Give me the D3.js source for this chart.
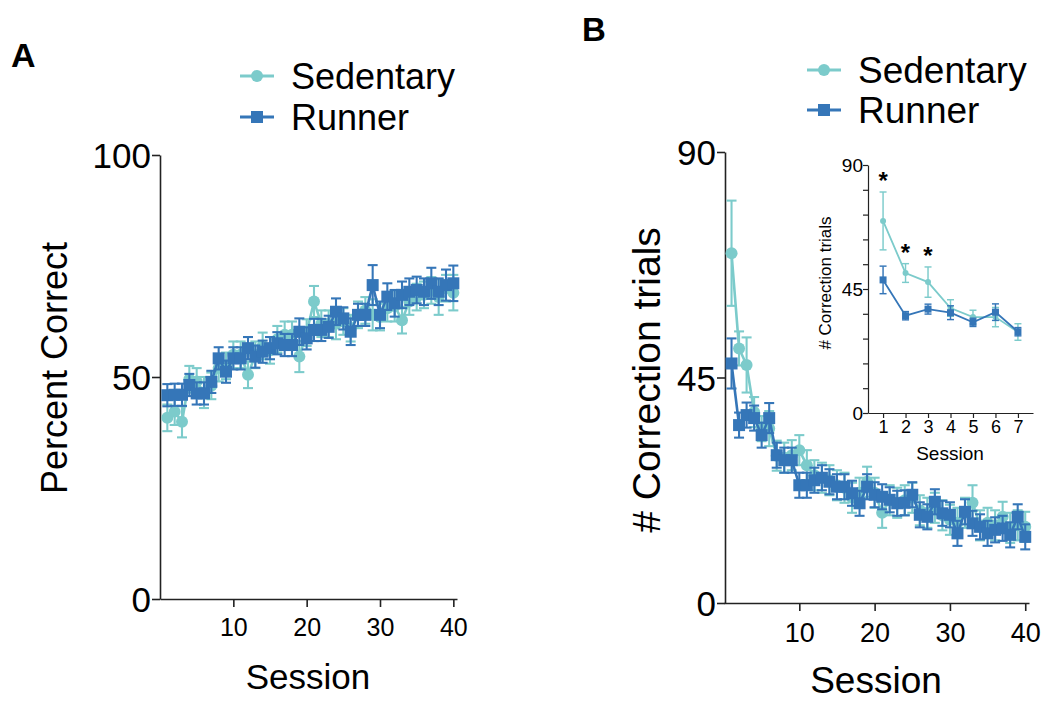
<!DOCTYPE html>
<meta charset="utf-8">
<html>
<head>
<style>
  body { margin: 0; background: #fff; }
  svg text { font-family: "Liberation Sans", Arial, sans-serif; fill: #000; }
  .axis path, .axis line { stroke: #222; stroke-width: 1.6; }
</style>
</head>
<body>
<svg id="chart" width="1050" height="710"></svg>
<script src="https://cdnjs.cloudflare.com/ajax/libs/d3/7.8.5/d3.min.js"></script>
<script>
  // data
  var sessions = d3.range(1, 41);
  var insetSessions = d3.range(1, 8);

  // A: percent correct
  var pctSedentary = [40.8, 42.2, 39.9, 49.5, 49, 46.5, 48, 52, 52.5, 55, 55, 50.5, 55, 57, 56, 58.5, 59.5, 59.5, 54.6, 60,
                      67, 62, 62, 62, 62.5, 61, 64, 65, 64, 63.5, 65.5, 66, 62.8, 67, 68, 68.5, 69.5, 68, 70, 69];
  var pctSedentaryErr = [3, 3, 3.5, 3, 3, 3.5, 3, 3, 3, 3, 3, 3, 3, 3, 3, 3, 3, 3, 3.5, 3,
                         3.5, 3, 3, 3.5, 3, 3, 3, 3, 3.5, 3, 3, 3.5, 3, 3, 3, 3, 3, 4, 3, 4];
  var pctRunner = [45.9, 46, 46, 48.2, 46.3, 46.3, 48.9, 54.2, 51.2, 54.2, 54.2, 56.5, 54.6, 55.7, 56.5, 57.6, 57.2, 57.2, 60.2, 58.7,
                   60.6, 60.6, 61.3, 64.7, 63.2, 60.2, 64, 64, 70.7, 64, 68.1, 66.6, 68.5, 69.2, 69.6, 69.2, 71.1, 69.2, 70.7, 71.1];
  var pctRunnerErr = [2.5, 2.5, 2.5, 2.5, 2.5, 2.5, 2.5, 2.5, 2.5, 2.5, 2.5, 2.5, 2.5, 2.5, 2.5, 2.5, 2.5, 2.5, 3, 2.5,
                      2.5, 2.5, 2.5, 3, 2.5, 3, 2.5, 2.5, 4.5, 3, 3, 3, 3, 3, 3, 3, 3.5, 3, 3.5, 4];

  // B: correction trials
  var corrSedentary = [69.8, 50.8, 47.5, 38.1, 34.8, 34.8, 29.4, 29, 29.5, 30.5, 27.5, 25.5, 25, 24.5, 23.5, 23, 21, 22, 24.2, 22,
                       18, 20.5, 20, 20.5, 21, 18.5, 18, 19, 17.5, 16.6, 16, 18, 20, 15.5, 16, 15.5, 17.2, 15, 15.5, 15.2];
  var corrSedentaryErr = [10.5, 3.4, 5.5, 3, 2.5, 3.5, 3, 3, 3, 3, 3, 3, 3, 3, 3, 3, 3, 3, 3, 3,
                          3, 3, 3, 3, 3, 3, 3, 3, 3, 3, 3, 3, 3.5, 3, 3, 3, 3, 3, 3, 3];
  var corrRunner = [47.8, 35.5, 37.5, 36.9, 33.5, 36.9, 29.5, 28.5, 28.5, 23.5, 23.5, 24.5, 25, 24.2, 23.2, 23.2, 21.9, 19.9, 23.2, 21.6,
                    21.2, 20.6, 19.9, 20, 21.6, 17.6, 17.2, 20.2, 17.9, 17.6, 13.9, 18.2, 15.9, 15.2, 13.9, 14.6, 14.9, 13.6, 17.2, 13.2];
  var corrRunnerErr = [5, 2.5, 2.5, 2.5, 2.5, 3, 2.5, 2.5, 2.5, 2.5, 2.5, 2.5, 2.5, 2.5, 2.5, 2.5, 2.5, 2.5, 2.5, 2.5,
                       2.5, 2.5, 2.5, 2.5, 2.5, 2.5, 2.5, 2.5, 2.5, 2.5, 2.5, 2.5, 2.5, 2.5, 2.5, 2.5, 2.5, 2.5, 2.5, 2.5];

  // B inset: first 7 sessions
  var insetSedentary = [69.7, 50.8, 47.5, 38.1, 34.8, 34.8, 29.4];
  var insetSedentaryErr = [10.5, 3.4, 5.5, 3, 2.5, 3.5, 3];
  var insetRunner = [48.3, 35.3, 37.7, 36.4, 32.9, 36.6, 29.5];
  var insetRunnerErr = [5, 1.5, 1.8, 2.5, 1.5, 3, 1.5];
  var insetStars = [1, 2, 3];

  var seriesNames = ["Sedentary", "Runner"];
  var colSed = "#7ccbcb", colRun = "#3576b8";

  var svg = d3.select("#chart");

  function rows(xs, ys, es) {
    return xs.map(function(x, i) { return { x: x, y: ys[i], e: es[i] }; });
  }

  // draw one series: line, error bars, markers
  function drawSeries(g, data, x, y, color, shape, size, cap, lw) {
    var line = d3.line().x(function(d) { return x(d.x); }).y(function(d) { return y(d.y); });
    g.append("path").datum(data)
      .attr("d", line).attr("fill", "none")
      .attr("stroke", color).attr("stroke-width", lw);

    var eb = g.append("g").attr("stroke", color).attr("stroke-width", lw * 0.8);
    data.forEach(function(d) {
      var cx = x(d.x);
      eb.append("line").attr("x1", cx).attr("x2", cx).attr("y1", y(d.y - d.e)).attr("y2", y(d.y + d.e));
      eb.append("line").attr("x1", cx - cap).attr("x2", cx + cap).attr("y1", y(d.y + d.e)).attr("y2", y(d.y + d.e));
      eb.append("line").attr("x1", cx - cap).attr("x2", cx + cap).attr("y1", y(d.y - d.e)).attr("y2", y(d.y - d.e));
    });

    if (shape == "circle") {
      g.selectAll("circle.m").data(data).enter().append("circle")
        .attr("class", "m")
        .attr("cx", function(d) { return x(d.x); })
        .attr("cy", function(d) { return y(d.y); })
        .attr("r", size / 2)
        .attr("fill", color);
    } else {
      g.selectAll("rect.m").data(data).enter().append("rect")
        .attr("class", "m")
        .attr("x", function(d) { return x(d.x) - size / 2; })
        .attr("y", function(d) { return y(d.y) - size / 2; })
        .attr("width", size).attr("height", size)
        .attr("fill", color);
    }
  }

  function legend(x0, y0, gap, fs) {
    var lg = svg.append("g");
    seriesNames.forEach(function(name, i) {
      var yy = y0 + i * gap;
      var c = i == 0 ? colSed : colRun;
      lg.append("line").attr("x1", x0).attr("x2", x0 + 34).attr("y1", yy).attr("y2", yy)
        .attr("stroke", c).attr("stroke-width", 3);
      if (i == 0) {
        lg.append("circle").attr("cx", x0 + 17).attr("cy", yy).attr("r", 6).attr("fill", c);
      } else {
        lg.append("rect").attr("x", x0 + 11).attr("y", yy - 6).attr("width", 12).attr("height", 12).attr("fill", c);
      }
      lg.append("text").attr("x", x0 + 51).attr("y", yy + fs * 0.36)
        .style("font-size", fs + "px").text(name);
    });
  }

  // ---------- Panel A ----------
  var xA = d3.scaleLinear().domain([0, 40.5]).range([160, 457]);
  var yA = d3.scaleLinear().domain([0, 100]).range([599, 155]);

  svg.append("g").attr("class", "axis")
    .attr("transform", "translate(0,599)")
    .call(d3.axisBottom(xA).tickValues([10, 20, 30, 40]).tickSize(8).tickSizeOuter(0))
    .call(function(g) { g.selectAll("text").style("font-size", "25px").attr("dy", "1.05em"); });
  svg.append("g").attr("class", "axis")
    .attr("transform", "translate(160,0)")
    .call(d3.axisLeft(yA).tickValues([0, 50, 100]).tickSize(8).tickSizeOuter(0))
    .call(function(g) { g.selectAll("text").style("font-size", "35px").attr("dy", "0.36em").attr("x", -9); });

  var gA = svg.append("g");
  drawSeries(gA.append("g"), rows(sessions, pctSedentary, pctSedentaryErr), xA, yA, colSed, "circle", 12, 5, 2.6);
  drawSeries(gA.append("g"), rows(sessions, pctRunner, pctRunnerErr), xA, yA, colRun, "square", 12, 5, 2.6);

  svg.append("text").attr("transform", "translate(67,368) rotate(-90)")
    .attr("text-anchor", "middle").style("font-size", "36px").text("Percent Correct");
  svg.append("text").attr("x", 308).attr("y", 689)
    .attr("text-anchor", "middle").style("font-size", "35px").text("Session");
  svg.append("text").attr("x", 11).attr("y", 67)
    .style("font-size", "34px").style("font-weight", "bold").text("A");
  legend(240, 76, 41, 36);

  // ---------- Panel B ----------
  var xB = d3.scaleLinear().domain([0, 40.5]).range([724, 1029]);
  var yB = d3.scaleLinear().domain([0, 90]).range([603, 152]);

  svg.append("g").attr("class", "axis")
    .attr("transform", "translate(0,603)")
    .call(d3.axisBottom(xB).tickValues([10, 20, 30, 40]).tickSize(8).tickSizeOuter(0))
    .call(function(g) { g.selectAll("text").style("font-size", "27px").attr("dy", "1.05em"); });
  svg.append("g").attr("class", "axis")
    .attr("transform", "translate(725,0)")
    .call(d3.axisLeft(yB).tickValues([0, 45, 90]).tickSize(8).tickSizeOuter(0))
    .call(function(g) { g.selectAll("text").style("font-size", "35px").attr("dy", "0.36em").attr("x", -9); });

  var gB = svg.append("g");
  drawSeries(gB.append("g"), rows(sessions, corrSedentary, corrSedentaryErr), xB, yB, colSed, "circle", 12, 5, 2.6);
  drawSeries(gB.append("g"), rows(sessions, corrRunner, corrRunnerErr), xB, yB, colRun, "square", 12, 5, 2.6);

  svg.append("text").attr("transform", "translate(660,380) rotate(-90)")
    .attr("text-anchor", "middle").style("font-size", "39px").text("# Correction trials");
  svg.append("text").attr("x", 876).attr("y", 693)
    .attr("text-anchor", "middle").style("font-size", "37px").text("Session");
  svg.append("text").attr("x", 582).attr("y", 41)
    .style("font-size", "33px").style("font-weight", "bold").text("B");
  legend(807, 70, 40, 37);

  // ---------- Inset ----------
  var xI = d3.scaleLinear().domain([0.33, 7.67]).range([868, 1033]);
  var yI = d3.scaleLinear().domain([0, 90]).range([413, 165]);

  svg.append("g").attr("class", "axis")
    .attr("transform", "translate(0,413)")
    .call(d3.axisBottom(xI).tickValues(insetSessions).tickSize(5).tickSizeOuter(0))
    .call(function(g) {
      g.selectAll("path, line").style("stroke-width", 1.2);
      g.selectAll("text").style("font-size", "18px").attr("y", 7).attr("dy", "0.72em");
    });
  svg.append("g").attr("class", "axis")
    .attr("transform", "translate(868,0)")
    .call(d3.axisLeft(yI).tickValues(d3.range(0, 91, 9)).tickSize(5).tickSizeOuter(0)
      .tickFormat(function(d) { return d % 45 == 0 ? d : ""; }))
    .call(function(g) {
      g.selectAll("path, line").style("stroke-width", 1.2);
      g.selectAll("text").style("font-size", "19px").attr("dy", "0.36em").attr("x", -5);
    });

  var gI = svg.append("g");
  drawSeries(gI.append("g"), rows(insetSessions, insetSedentary, insetSedentaryErr), xI, yI, colSed, "circle", 6, 3.5, 1.8);
  drawSeries(gI.append("g"), rows(insetSessions, insetRunner, insetRunnerErr), xI, yI, colRun, "square", 7, 3.5, 1.8);

  svg.append("g").selectAll("text").data(insetStars).enter().append("text")
    .attr("x", function(d) { return xI(d); })
    .attr("y", function(d) { return yI(insetSedentary[d - 1] + insetSedentaryErr[d - 1]) - 3; })
    .attr("text-anchor", "middle")
    .style("font-size", "24px").style("font-weight", "bold")
    .text("*");

  svg.append("text").attr("transform", "translate(831,283) rotate(-90)")
    .attr("text-anchor", "middle").style("font-size", "17px").text("# Correction trials");
  svg.append("text").attr("x", 950).attr("y", 460)
    .attr("text-anchor", "middle").style("font-size", "19px").text("Session");
</script>
</body>
</html>
